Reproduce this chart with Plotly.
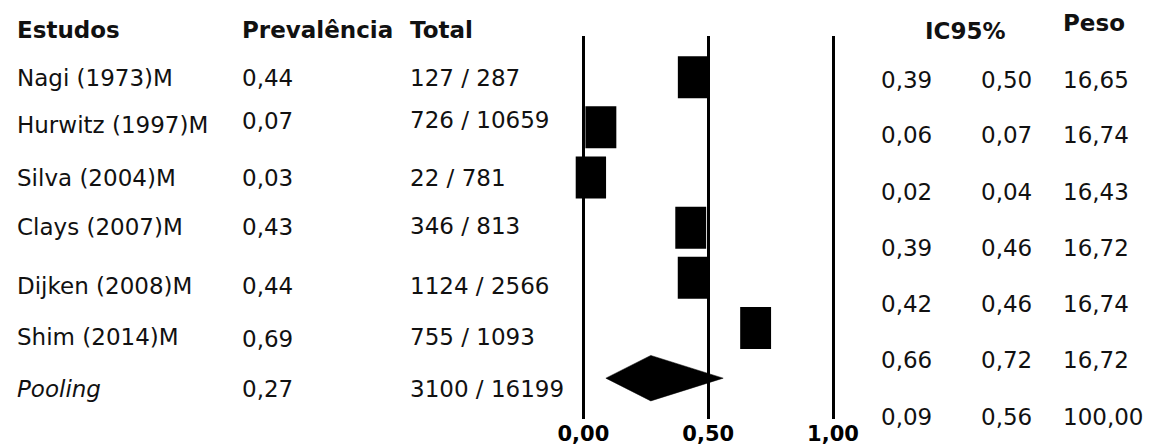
import plotly.graph_objects as go

# ---- data ---------------------------------------------------------------
studies = ["Nagi (1973)M", "Hurwitz (1997)M", "Silva (2004)M",
           "Clays (2007)M", "Dijken (2008)M", "Shim (2014)M"]
pooled_label = "Pooling"

prevalence = [0.44, 0.07, 0.03, 0.43, 0.44, 0.69]
pooled_prevalence = 0.27

cases = [127, 726, 22, 346, 1124, 755]
totals = [287, 10659, 781, 813, 2566, 1093]
pooled_cases = 3100
pooled_total = 16199

ci_low = [0.39, 0.06, 0.02, 0.39, 0.42, 0.66]
ci_high = [0.50, 0.07, 0.04, 0.46, 0.46, 0.72]
pooled_ci_low = 0.09
pooled_ci_high = 0.56

weights = [16.65, 16.74, 16.43, 16.72, 16.74, 16.72]
pooled_weight = 100.00

axis_ticks = [0.0, 0.5, 1.0]
headers = ["Estudos", "Prevalência", "Total", "IC95%", "Peso"]

# ---- layout constants ---------------------------------------------------
W, H = 1152, 448
PLOT_TOP, PLOT_BOTTOM = 36, 419          # pixel rows of the plotting band
FONT = "DejaVu Sans"
BODY_SIZE = 23
HEAD_SIZE = 23
BOX_PER_WEIGHT = 0.0074                  # box width (x units) per weight point
BOX_HEIGHT = 0.837                       # in row units
DIAMOND_HALF = 0.453                     # in row units

NAME_X, PREV_X, TOTAL_X = 15, 240, 408
LOW_X, HIGH_X, PESO_X = 879, 979, 1061
name_rows_y = [78, 125, 178, 227, 286, 337, 389]
prev_rows_y = [78, 121, 178, 227, 286, 339, 389]
total_rows_y = [78, 120, 178, 226, 286, 337, 389]
right_rows_y = [80, 135, 192, 248, 304, 360, 417]
header_pos = [(NAME_X, 30), (PREV_X, 30), (TOTAL_X, 30), (923, 31), (PESO_X, 23)]


def fmt(v):
    return f"{v:.2f}".replace(".", ",")


rows = list(range(len(studies)))
pooled_row = len(studies)

fig = go.Figure()

# study boxes: centred on the prevalence, width scaled by the weight
box_w = [w * BOX_PER_WEIGHT for w in weights]
fig.add_trace(go.Bar(
    orientation="h",
    y=rows,
    x=box_w,
    base=[p - bw / 2 for p, bw in zip(prevalence, box_w)],
    width=BOX_HEIGHT,
    marker=dict(color="black", line=dict(width=0)),
    hoverinfo="skip",
))

# pooled estimate diamond spanning the confidence interval
fig.add_trace(go.Scatter(
    x=[pooled_ci_low, pooled_prevalence, pooled_ci_high, pooled_prevalence, pooled_ci_low],
    y=[pooled_row, pooled_row - DIAMOND_HALF, pooled_row, pooled_row + DIAMOND_HALF, pooled_row],
    mode="lines",
    fill="toself",
    fillcolor="black",
    line=dict(color="black", width=0.5),
    hoverinfo="skip",
))

# ---- table text ---------------------------------------------------------
annotations = []


def add_text(px, py, text, size=BODY_SIZE, weight="normal", style="normal"):
    annotations.append(dict(
        x=px / W, y=(PLOT_BOTTOM - py) / (PLOT_BOTTOM - PLOT_TOP),
        xref="paper", yref="paper",
        xanchor="left", yanchor="middle",
        text=text, showarrow=False,
        font=dict(family=FONT, size=size, color="#111111", weight=weight, style=style),
    ))


for (hx, hy), label in zip(header_pos, headers):
    add_text(hx, hy, label, size=HEAD_SIZE, weight="bold")

for i, name in enumerate(studies):
    add_text(NAME_X, name_rows_y[i], name)
    add_text(PREV_X, prev_rows_y[i], fmt(prevalence[i]))
    add_text(TOTAL_X, total_rows_y[i], f"{cases[i]} / {totals[i]}")
    add_text(LOW_X, right_rows_y[i], fmt(ci_low[i]))
    add_text(HIGH_X, right_rows_y[i], fmt(ci_high[i]))
    add_text(PESO_X, right_rows_y[i], fmt(weights[i]))

add_text(NAME_X, name_rows_y[pooled_row], pooled_label, style="italic")
add_text(PREV_X, prev_rows_y[pooled_row], fmt(pooled_prevalence))
add_text(TOTAL_X, total_rows_y[pooled_row], f"{pooled_cases} / {pooled_total}")
add_text(LOW_X, right_rows_y[pooled_row], fmt(pooled_ci_low))
add_text(HIGH_X, right_rows_y[pooled_row], fmt(pooled_ci_high))
add_text(PESO_X, right_rows_y[pooled_row], fmt(pooled_weight))

# ---- axes ---------------------------------------------------------------
px_per_unit = 249.6
x_zero_px = 583.4
row_zero_px = 77.2
row_step_px = 50.16

fig.update_layout(
    width=W, height=H,
    margin=dict(l=0, r=0, t=PLOT_TOP, b=H - PLOT_BOTTOM, pad=0),
    paper_bgcolor="white", plot_bgcolor="white",
    showlegend=False, barmode="overlay",
    annotations=annotations,
    xaxis=dict(
        range=[-x_zero_px / px_per_unit, (W - x_zero_px) / px_per_unit],
        tickvals=axis_ticks,
        ticktext=[fmt(t) for t in axis_ticks],
        tickfont=dict(family=FONT, size=21, color="black", weight="bold"),
        showgrid=True, gridcolor="black", gridwidth=2.5,
        zeroline=False, showline=False, ticks="",
        fixedrange=True,
    ),
    yaxis=dict(
        range=[(PLOT_BOTTOM - row_zero_px) / row_step_px,
               (PLOT_TOP - row_zero_px) / row_step_px],
        visible=False, fixedrange=True,
    ),
)

fig.write_html("out.html")
